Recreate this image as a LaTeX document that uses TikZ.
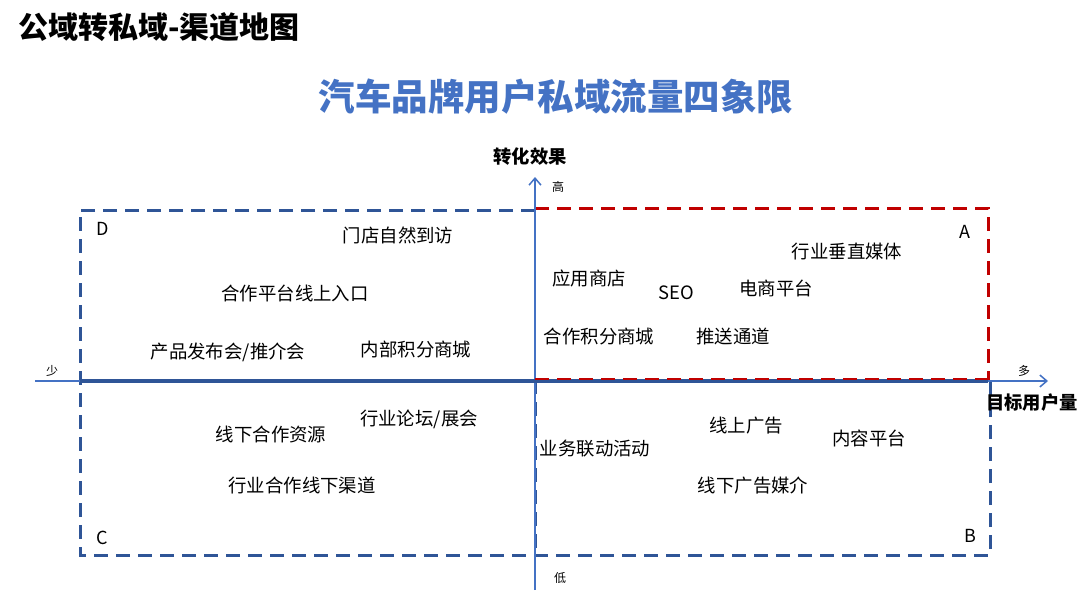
\documentclass[tikz,border=0pt]{standalone}
\usepackage{fontspec}
\setmainfont{Noto Sans CJK SC}
\usetikzlibrary{arrows.meta}
\definecolor{dblue}{HTML}{2F5597}
\definecolor{lblue}{HTML}{4472C4}
\definecolor{dred}{HTML}{C00000}
\tikzset{
  item/.style={font=\fontsize{18.4}{21}\selectfont, inner sep=0pt},
  corner/.style={font=\fontsize{18}{21}\selectfont, inner sep=0pt},
  tick/.style={font=\fontsize{12}{14}\selectfont, inner sep=0pt},
  axlabel/.style={font=\bfseries\fontsize{18.3}{21}\selectfont, inner sep=0pt},
  bluedash/.style={draw=dblue, line width=3pt, dash pattern=on 14pt off 8pt},
  reddash/.style={draw=dred, line width=3pt, dash pattern=on 14pt off 8pt},
  thinaxis/.style={draw=lblue, line width=1.5pt},
  thickaxis/.style={draw=dblue, line width=3.5pt}
}
\begin{document}
\begin{tikzpicture}[x=1pt,y=-1pt]
\useasboundingbox (0,0) rectangle (1080,597);
% titles
\node[anchor=west, inner sep=0pt, font=\bfseries\fontsize{30}{34}\selectfont] (maintitle) at (18,27) {公域转私域-渠道地图};
\node[inner sep=0pt, text=lblue, font=\bfseries\fontsize{36.5}{42}\selectfont] (title) at (556,97) {汽车品牌用户私域流量四象限};
% boxes
\draw[bluedash] (535,210) -- (80,210) -- (80,555) -- (990,555) -- (990,380);
\draw[bluedash] (535,380) -- (535,555);
\draw[reddash] (535,208) -- (988,208) -- (988,380);
% axes
\coordinate (xs) at (35,381);
\coordinate (xe) at (1048,381);
\coordinate (ys) at (535,590);
\coordinate (ye) at (535,177);
\draw[thinaxis, -{Straight Barb[length=7pt,width=12pt]}] (xs) -- (xe);
\draw[thinaxis, -{Straight Barb[length=7pt,width=12pt]}] (ys) -- (ye);
\coordinate (ta) at (80,381);
\coordinate (tb) at (988,381);
\draw[thickaxis] (ta) -- (tb);
\draw[reddash, line width=2pt] (535,379) -- (988,379);
% axis labels
\node[axlabel] (ylab) at (530,157) {转化效果};
\node[axlabel, anchor=east] (xlab) at (1078,403) {目标用户量};
\node[tick] (hi) at (558,187) {高};
\node[tick] (lo) at (560,578) {低};
\node[tick] (few) at (52,371) {少};
\node[tick] (many) at (1024,371) {多};
% corners
\node[corner] (A) at (965,232) {A};
\node[corner] (B) at (970,536) {B};
\node[corner] (C) at (102,538) {C};
\node[corner] (D) at (103,229) {D};
% items
\node[item] (i1) at (398,235) {门店自然到访};
\node[item] (i2) at (295,293) {合作平台线上入口};
\node[item] (i3) at (228,352) {产品发布会/推介会};
\node[item] (i4) at (416,349) {内部积分商城};
\node[item] (i5) at (271,434) {线下合作资源};
\node[item] (i6) at (419,419) {行业论坛/展会};
\node[item] (i7) at (302,485) {行业合作线下渠道};
\node[item] (i8) at (589,278) {应用商店};
\node[item] (i9) at (676,293) {SEO};
\node[item] (i10) at (776,288) {电商平台};
\node[item] (i11) at (847,252) {行业垂直媒体};
\node[item] (i12) at (599,336) {合作积分商城};
\node[item] (i13) at (733,336) {推送通道};
\node[item] (i14) at (595,449) {业务联动活动};
\node[item] (i15) at (746,426) {线上广告};
\node[item] (i16) at (869,438) {内容平台};
\node[item] (i17) at (753,486) {线下广告媒介};
\end{tikzpicture}
\end{document}
